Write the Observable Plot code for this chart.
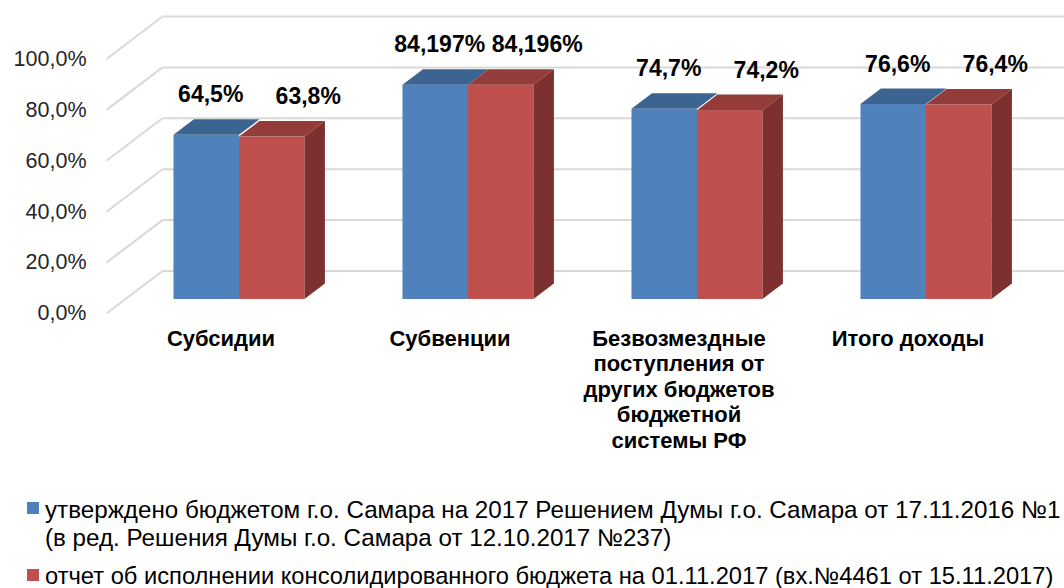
<!DOCTYPE html>
<html>
<head>
<meta charset="utf-8">
<script src="https://cdn.jsdelivr.net/npm/d3@7"></script>
<script src="https://cdn.jsdelivr.net/npm/@observablehq/plot@0.6"></script>
<style>
  html, body { margin: 0; padding: 0; background: #fff; width: 1064px; height: 588px; overflow: hidden; }
  body { position: relative; font-family: "Liberation Sans", Arial, sans-serif; }
  #chart { position: absolute; left: 0; top: 0; }
  .leg { position: absolute; left: 0; white-space: nowrap; font-size: 24.2px; line-height: 28px; color: #000; }
  .sw { position: absolute; width: 12px; height: 12px; }
</style>
</head>
<body>
<div id="chart"></div>
<div id="legend"></div>
<script>
// ---------- data ----------
const categories = [
  "Субсидии",
  "Субвенции",
  "Безвозмездные\nпоступления от\nдругих бюджетов\nбюджетной\nсистемы РФ",
  "Итого доходы"
];
const approved = [64.5, 84.197, 74.7, 76.6];
const reported = [63.8, 84.196, 74.2, 76.4];
const approvedLabels = ["64,5%", "84,197%", "74,7%", "76,6%"];
const reportedLabels = ["63,8%", "84,196%", "74,2%", "76,4%"];
const yTicks = [0, 20, 40, 60, 80, 100];
const seriesNames = [
  ["утверждено бюджетом г.о. Самара на 2017 Решением Думы г.о. Самара от 17.11.2016 №1",
   "(в ред. Решения Думы г.о. Самара от 12.10.2017 №237)"],
  ["отчет об исполнении консолидированного бюджета на 01.11.2017 (вх.№4461 от 15.11.2017)"]
];
const colors = {
  blue: {front: "#4f81bd", top: "#3c6491"},
  red: {front: "#c0504d", top: "#933c3a", side: "#7c3130"}
};

// ---------- geometry (pixels) ----------
const W = 1064, H = 490;
const X0 = 106, BAND = 229;
const Y0 = 313, KY = 2.545;
const DX = 56, DY = 42.5;
const cx = DX / BAND, cy = DY / KY;
const d0 = 0.33, d1 = 0.695;
const BW = 65.5 / BAND;
const G = (1 - 2 * BW) / 2;
const FONT = "'Liberation Sans', Arial, sans-serif";

const bars = [];
categories.forEach((c, i) => {
  bars.push({id: "b" + i, s: "blue", i, v: approved[i], label: approvedLabels[i], xa: i + G, xb: i + G + BW});
  bars.push({id: "r" + i, s: "red", i, v: reported[i], label: reportedLabels[i], xa: i + G + BW, xb: i + G + 2 * BW});
});
const blue = bars.filter(b => b.s === "blue");
const red = bars.filter(b => b.s === "red");

const topRows = arr => arr.flatMap(b => [d0, d1].map(d => ({id: b.id, y: b.v + d * cy, x1: b.xa + d * cx, x2: b.xb + d * cx})));
const sideRows = arr => arr.flatMap(b => [d0, d1].map(d => ({id: b.id, x: b.xb + d * cx, y1: d * cy, y2: b.v + d * cy})));

const front = (arr, fill) => Plot.rect(arr, {
  x1: b => b.xa + d0 * cx, x2: b => b.xb + d0 * cx,
  y1: b => d0 * cy, y2: b => b.v + d0 * cy, fill
});

const grid = {stroke: "#d9d9d9", strokeWidth: 2};
const fmt = d => d.toFixed(1).replace(".", ",") + "%";

const chart = Plot.plot({
  width: W, height: H,
  marginLeft: X0, marginRight: 0, marginTop: 0, marginBottom: 0,
  style: {fontFamily: FONT, background: "transparent", color: "#262626"},
  x: {domain: [0, 4], range: [X0, X0 + 4 * BAND], axis: null},
  y: {domain: [0, 100], range: [Y0, Y0 - 100 * KY], axis: null},
  marks: [
    Plot.link(yTicks, {x1: () => cx, x2: () => 4 + cx, y1: v => v + cy, y2: v => v + cy, ...grid}),
    Plot.link(yTicks, {x1: () => 0, x2: () => cx, y1: v => v, y2: v => v + cy, ...grid}),
    Plot.axisY(yTicks, {tickFormat: fmt, tickSize: 0, tickPadding: 20, fontSize: 21.5}),
    front(blue, colors.blue.front),
    Plot.areaX(topRows(blue), {y: "y", x1: "x1", x2: "x2", z: "id", fill: colors.blue.top, curve: "linear"}),
    front(red, colors.red.front),
    Plot.areaX(topRows(red), {y: "y", x1: "x1", x2: "x2", z: "id", fill: colors.red.top, curve: "linear"}),
    Plot.areaY(sideRows(red), {x: "x", y1: "y1", y2: "y2", z: "id", fill: colors.red.side, curve: "linear"}),
    Plot.text(blue, {x: b => (b.xa + b.xb) / 2 + d0 * cx, y: b => b.v + d0 * cy, text: "label", dx: 4, dy: -33, lineAnchor: "bottom", fontWeight: "bold", fontSize: 23, fill: "#000"}),
    Plot.text(red, {x: b => (b.xa + b.xb) / 2 + d0 * cx, y: b => b.v + d0 * cy, text: "label", dx: 36, dy: -33, lineAnchor: "bottom", fontWeight: "bold", fontSize: 23, fill: "#000"}),
    Plot.text(categories, {x: (d, i) => i + 0.5, y: () => 0, text: d => d, dy: 14, lineAnchor: "top", lineHeight: 25.5 / 22, fontWeight: "bold", fontSize: 22, fill: "#000"})
  ]
});
document.getElementById("chart").appendChild(chart);

const leg = document.getElementById("legend");
const items = [
  {sw: colors.blue.front, swTop: 502, lines: seriesNames[0], top: 496, size: 24.2},
  {sw: colors.red.front, swTop: 569, lines: seriesNames[1], top: 562, size: 23.7}
];
items.forEach(it => {
  const s = document.createElement("div");
  s.className = "sw"; s.style.left = "27px"; s.style.top = it.swTop + "px"; s.style.background = it.sw;
  leg.appendChild(s);
  it.lines.forEach((t, k) => {
    const d = document.createElement("div");
    d.className = "leg"; d.style.left = "45px"; d.style.top = (it.top + k * 28) + "px";
    d.style.fontSize = it.size + "px";
    d.textContent = t;
    leg.appendChild(d);
  });
});
</script>
</body>
</html>
